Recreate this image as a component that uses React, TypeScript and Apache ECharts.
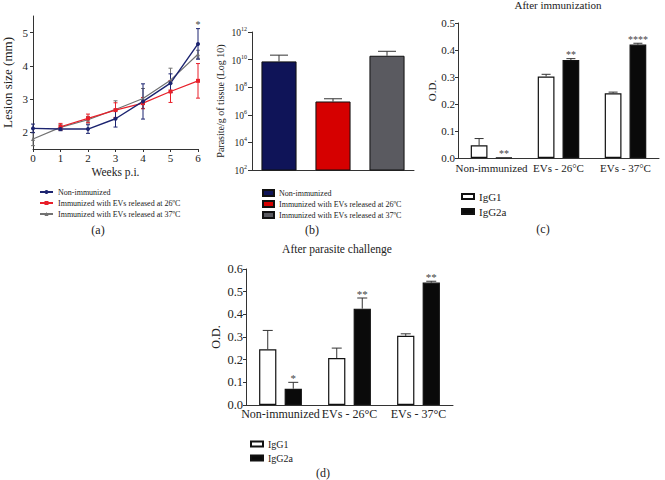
import React, { useEffect, useRef } from 'react';
import * as echarts from 'echarts';

// ---------- Panel (a): lesion size ----------
const weeks = [0, 1, 2, 3, 4, 5, 6];
const nonImmMean = [2.12, 2.1, 2.1, 2.41, 2.93, 3.48, 4.66];
const nonImmErr = [0.13, 0.05, 0.13, 0.25, 0.53, 0.28, 0.46];
const ev26Mean = [null, 2.17, 2.42, 2.67, 2.88, 3.23, 3.55];
const ev26Err = [null, 0.1, 0.13, 0.22, 0.17, 0.33, 0.52];
const ev37Mean = [1.8, 2.15, 2.38, 2.69, 3.02, 3.57, 4.35];
const ev37Err = [0.2, 0.08, 0.1, 0.26, 0.3, 0.36, 0.12];
const starsA = ['', '', '', '', '', '', '*'];
const yTicksA = [2, 3, 4, 5];

// ---------- Panel (b): parasite load ----------
const groupsB = ['Non-immunized', 'Immunized with EVs released at 26ºC', 'Immunized with EVs released at 37ºC'];
const parasiteMean = [7.4e9, 9.2e6, 1.9e10];
const parasiteUpper = [2.1e10, 1.45e7, 4.0e10];
const yTicksB = [1e2, 1e4, 1e6, 1e8, 1e10, 1e12];

// ---------- Panel (c): after immunization ----------
const catsOD = ['Non-immunized', 'EVs - 26°C', 'EVs - 37°C'];
const igg1C = [0.047, 0.302, 0.24];
const igg1CUpper = [0.072, 0.31, 0.244];
const igg2aC = [0.002, 0.363, 0.42];
const igg2aCUpper = [0.002, 0.368, 0.425];
const starsC2a = ['**', '**', '****'];

// ---------- Panel (d): after parasite challenge ----------
const igg1D = [0.246, 0.207, 0.305];
const igg1DUpper = [0.329, 0.251, 0.314];
const igg2aD = [0.072, 0.425, 0.54];
const igg2aDUpper = [0.1, 0.472, 0.546];
const starsD2a = ['*', '**', '**'];

const FONT = "'Liberation Serif', 'DejaVu Serif', serif";
const AXIS_COLOR = '#333';
const TEXT_COLOR = '#222';

const NAVY_LINE = '#1c2470';
const RED_LINE = '#e8202a';
const GRAY_LINE = '#727272';
const NAVY_BAR = '#0f1458';
const RED_BAR = '#d60000';
const GRAY_BAR = '#5a5a60';

type ErrOpts = {
  offset: number;
  cap: number;
  color: string;
  both?: boolean;
  stars?: string[];
  starSize?: number;
  starGap?: number;
};

const makeErr = (o: ErrOpts) => (params: any, api: any) => {
  const x = api.value(0);
  const lo = api.value(1);
  const hi = api.value(2);
  const cw = api.size([1, 0])[0];
  const a = api.coord([x, lo]);
  const b = api.coord([x, hi]);
  const cx = a[0] + o.offset * cw;
  const st = { stroke: o.color, lineWidth: 1 };
  const children: any[] = [];
  if (Math.abs(a[1] - b[1]) > 0.5) {
    children.push({ type: 'line', shape: { x1: cx, y1: a[1], x2: cx, y2: b[1] }, style: st });
    children.push({ type: 'line', shape: { x1: cx - o.cap / 2, y1: b[1], x2: cx + o.cap / 2, y2: b[1] }, style: st });
    if (o.both) {
      children.push({ type: 'line', shape: { x1: cx - o.cap / 2, y1: a[1], x2: cx + o.cap / 2, y2: a[1] }, style: st });
    }
  }
  const s = o.stars ? o.stars[params.dataIndex] : '';
  if (s) {
    children.push({
      type: 'text',
      x: cx,
      y: b[1] - (o.starGap ?? 3),
      style: {
        text: s,
        fill: '#444',
        fontSize: o.starSize ?? 10,
        fontFamily: FONT,
        align: 'center',
        verticalAlign: 'middle',
      },
    });
  }
  return { type: 'group', children };
};

const lineErrData = (mean: (number | null)[], err: (number | null)[]) =>
  weeks
    .map((w, i) => (mean[i] == null ? null : [w, (mean[i] as number) - (err[i] as number), (mean[i] as number) + (err[i] as number)]))
    .filter((d) => d != null);

const barErrData = (mean: number[], upper: number[]) => mean.map((m, i) => [i, m, upper[i]]);

const stripPrefix = (name: string) => name.slice(2);

const axisLineStyle = { lineStyle: { color: AXIS_COLOR, width: 1 } };

function buildOption(): any {
  return {
    animation: false,
    backgroundColor: '#fff',
    textStyle: { fontFamily: FONT, color: TEXT_COLOR },
    grid: [
      { left: 33, top: 16, width: 165, height: 133 },
      { left: 252, top: 32, width: 162, height: 138 },
      { left: 458, top: 23, width: 201, height: 135 },
      { left: 246, top: 269, width: 207, height: 136 },
    ],
    xAxis: [
      {
        gridIndex: 0,
        type: 'value',
        min: 0,
        max: 6,
        interval: 1,
        name: 'Weeks p.i.',
        nameLocation: 'middle',
        nameGap: 17,
        nameTextStyle: { fontSize: 11.5, fontFamily: FONT, color: TEXT_COLOR },
        axisLine: axisLineStyle,
        axisTick: { length: 3, lineStyle: { color: AXIS_COLOR } },
        axisLabel: { margin: 3, fontSize: 11, fontFamily: FONT, color: TEXT_COLOR },
        splitLine: { show: false },
      },
      {
        gridIndex: 1,
        type: 'category',
        data: groupsB,
        axisLine: axisLineStyle,
        axisTick: { alignWithLabel: true, length: 4, lineStyle: { color: AXIS_COLOR } },
        axisLabel: { show: false },
      },
      {
        gridIndex: 2,
        type: 'category',
        data: catsOD,
        axisLine: axisLineStyle,
        axisTick: { alignWithLabel: true, length: 4, lineStyle: { color: AXIS_COLOR } },
        axisLabel: { interval: 0, hideOverlap: false, margin: 4, fontSize: 11, fontFamily: FONT, color: TEXT_COLOR },
      },
      {
        gridIndex: 3,
        type: 'category',
        data: catsOD,
        axisLine: axisLineStyle,
        axisTick: { alignWithLabel: true, length: 4, lineStyle: { color: AXIS_COLOR } },
        axisLabel: { interval: 0, hideOverlap: false, margin: 3, fontSize: 12, fontFamily: FONT, color: TEXT_COLOR },
      },
    ],
    yAxis: [
      {
        gridIndex: 0,
        type: 'value',
        min: 1.5,
        max: 5.5,
        name: 'Lesion size (mm)',
        nameLocation: 'middle',
        nameRotate: 90,
        nameGap: 19,
        nameTextStyle: { fontSize: 13, fontFamily: FONT, color: TEXT_COLOR },
        axisLine: { show: true, ...axisLineStyle },
        axisTick: { show: true, length: 3, customValues: yTicksA, lineStyle: { color: AXIS_COLOR } },
        axisLabel: { margin: 5, fontSize: 11, fontFamily: FONT, color: TEXT_COLOR, customValues: yTicksA },
        splitLine: { show: false },
      },
      {
        gridIndex: 1,
        type: 'log',
        logBase: 10,
        min: 1e2,
        max: 1e12,
        name: 'Parasite/g of tissue (Log 10)',
        nameLocation: 'middle',
        nameRotate: 90,
        nameGap: 27,
        nameTextStyle: { fontSize: 10, fontFamily: FONT, color: TEXT_COLOR },
        axisLine: { show: true, ...axisLineStyle },
        axisTick: { show: true, length: 4, customValues: yTicksB, lineStyle: { color: AXIS_COLOR } },
        axisLabel: {
          margin: 5,
          customValues: yTicksB,
          formatter: (v: number) => `{b|10}{s|${Math.round(Math.log10(v))}}`,
          rich: {
            b: { fontSize: 9.5, fontFamily: FONT, color: TEXT_COLOR, lineHeight: 12, verticalAlign: 'bottom' },
            s: { fontSize: 6, fontFamily: FONT, color: TEXT_COLOR, lineHeight: 6, verticalAlign: 'top' },
          },
        },
        splitLine: { show: false },
      },
      {
        gridIndex: 2,
        type: 'value',
        min: 0,
        max: 0.5,
        interval: 0.1,
        name: 'O.D.',
        nameLocation: 'middle',
        nameRotate: 90,
        nameGap: 21,
        nameTextStyle: { fontSize: 11, fontFamily: FONT, color: TEXT_COLOR },
        axisLine: { show: true, ...axisLineStyle },
        axisTick: { show: true, length: 3, lineStyle: { color: AXIS_COLOR } },
        axisLabel: { margin: 3, fontSize: 11, fontFamily: FONT, color: TEXT_COLOR, formatter: (v: number) => v.toFixed(1) },
        splitLine: { show: false },
      },
      {
        gridIndex: 3,
        type: 'value',
        min: 0,
        max: 0.6,
        interval: 0.1,
        name: 'O.D.',
        nameLocation: 'middle',
        nameRotate: 90,
        nameGap: 24,
        nameTextStyle: { fontSize: 12, fontFamily: FONT, color: TEXT_COLOR },
        axisLine: { show: true, ...axisLineStyle },
        axisTick: { show: true, length: 3, lineStyle: { color: AXIS_COLOR } },
        axisLabel: { margin: 3, fontSize: 12.5, fontFamily: FONT, color: TEXT_COLOR, formatter: (v: number) => v.toFixed(1) },
        splitLine: { show: false },
      },
    ],
    legend: [
      {
        left: 34,
        top: 183,
        orient: 'vertical',
        itemWidth: 13,
        itemHeight: 5,
        itemGap: 3,
        selectedMode: false,
        formatter: stripPrefix,
        textStyle: { fontSize: 8, fontFamily: FONT, color: TEXT_COLOR },
        data: ['a:Non-immunized', 'a:Immunized with EVs released at 26ºC', 'a:Immunized with EVs released at 37ºC'],
      },
      {
        left: 257,
        top: 184,
        orient: 'vertical',
        icon: 'rect',
        itemWidth: 11,
        itemHeight: 6,
        itemGap: 3,
        selectedMode: false,
        formatter: stripPrefix,
        textStyle: { fontSize: 8, fontFamily: FONT, color: TEXT_COLOR },
        data: groupsB.map((g) => 'b:' + g),
      },
      {
        left: 456,
        top: 186,
        orient: 'vertical',
        icon: 'rect',
        itemWidth: 12,
        itemHeight: 5,
        itemGap: 4,
        selectedMode: false,
        formatter: stripPrefix,
        textStyle: { fontSize: 11, fontFamily: FONT, color: TEXT_COLOR },
        data: ['c:IgG1', 'c:IgG2a'],
      },
      {
        left: 245,
        top: 434,
        orient: 'vertical',
        icon: 'rect',
        itemWidth: 12,
        itemHeight: 5,
        itemGap: 4,
        selectedMode: false,
        formatter: stripPrefix,
        textStyle: { fontSize: 10, fontFamily: FONT, color: TEXT_COLOR },
        data: ['d:IgG1', 'd:IgG2a'],
      },
    ],
    graphic: [
      { type: 'text', x: 558, y: 5, style: { text: 'After immunization', fontSize: 11, fontFamily: FONT, fill: TEXT_COLOR, align: 'center', verticalAlign: 'middle' } },
      { type: 'text', x: 337, y: 249, style: { text: 'After parasite challenge', fontSize: 11.5, fontFamily: FONT, fill: TEXT_COLOR, align: 'center', verticalAlign: 'middle' } },
      { type: 'text', x: 98, y: 230, style: { text: '(a)', fontSize: 12, fontFamily: FONT, fill: TEXT_COLOR, align: 'center', verticalAlign: 'middle' } },
      { type: 'text', x: 312, y: 230, style: { text: '(b)', fontSize: 12, fontFamily: FONT, fill: TEXT_COLOR, align: 'center', verticalAlign: 'middle' } },
      { type: 'text', x: 543, y: 229, style: { text: '(c)', fontSize: 12, fontFamily: FONT, fill: TEXT_COLOR, align: 'center', verticalAlign: 'middle' } },
      { type: 'text', x: 323, y: 473, style: { text: '(d)', fontSize: 12, fontFamily: FONT, fill: TEXT_COLOR, align: 'center', verticalAlign: 'middle' } },
    ],
    series: [
      // ----- (a) lines -----
      {
        name: 'a:Immunized with EVs released at 37ºC',
        type: 'line',
        xAxisIndex: 0,
        yAxisIndex: 0,
        data: weeks.map((w, i) => [w, ev37Mean[i]]),
        symbol: 'triangle',
        symbolSize: 4,
        lineStyle: { color: GRAY_LINE, width: 1.2 },
        itemStyle: { color: GRAY_LINE },
      },
      {
        name: 'a:Immunized with EVs released at 26ºC',
        type: 'line',
        xAxisIndex: 0,
        yAxisIndex: 0,
        data: weeks.map((w, i) => [w, ev26Mean[i]]).filter((d) => d[1] != null),
        symbol: 'rect',
        symbolSize: 4,
        lineStyle: { color: RED_LINE, width: 1.2 },
        itemStyle: { color: RED_LINE },
      },
      {
        name: 'a:Non-immunized',
        type: 'line',
        xAxisIndex: 0,
        yAxisIndex: 0,
        data: weeks.map((w, i) => [w, nonImmMean[i]]),
        symbol: 'circle',
        symbolSize: 4,
        lineStyle: { color: NAVY_LINE, width: 1.4 },
        itemStyle: { color: NAVY_LINE },
      },
      {
        type: 'custom',
        xAxisIndex: 0,
        yAxisIndex: 0,
        silent: true,
        renderItem: makeErr({ offset: 0, cap: 4, color: GRAY_LINE, both: true }),
        data: lineErrData(ev37Mean, ev37Err),
      },
      {
        type: 'custom',
        xAxisIndex: 0,
        yAxisIndex: 0,
        silent: true,
        renderItem: makeErr({ offset: 0, cap: 4, color: RED_LINE, both: true }),
        data: lineErrData(ev26Mean, ev26Err),
      },
      {
        type: 'custom',
        xAxisIndex: 0,
        yAxisIndex: 0,
        silent: true,
        renderItem: makeErr({ offset: 0, cap: 4, color: NAVY_LINE, both: true, stars: starsA, starSize: 10, starGap: 4 }),
        data: lineErrData(nonImmMean, nonImmErr),
      },
      // ----- (b) bars -----
      ...groupsB.map((g, gi) => ({
        name: 'b:' + g,
        type: 'bar',
        xAxisIndex: 1,
        yAxisIndex: 1,
        barWidth: '65%',
        barGap: '-100%',
        data: groupsB.map((_, i) => (i === gi ? parasiteMean[i] : '-')),
        itemStyle: { color: [NAVY_BAR, RED_BAR, GRAY_BAR][gi], borderColor: '#111', borderWidth: 1 },
      })),
      {
        type: 'custom',
        xAxisIndex: 1,
        yAxisIndex: 1,
        silent: true,
        renderItem: makeErr({ offset: 0, cap: 18, color: '#333' }),
        data: barErrData(parasiteMean, parasiteUpper),
      },
      // ----- (c) bars -----
      {
        name: 'c:IgG1',
        type: 'bar',
        xAxisIndex: 2,
        yAxisIndex: 2,
        barWidth: '25%',
        barGap: '48%',
        data: igg1C,
        itemStyle: { color: '#ffffff', borderColor: '#111', borderWidth: 1.2 },
      },
      {
        name: 'c:IgG2a',
        type: 'bar',
        xAxisIndex: 2,
        yAxisIndex: 2,
        barWidth: '25%',
        barGap: '48%',
        data: igg2aC,
        itemStyle: { color: '#0a0a0a', borderColor: '#111', borderWidth: 1.2 },
      },
      {
        type: 'custom',
        xAxisIndex: 2,
        yAxisIndex: 2,
        silent: true,
        renderItem: makeErr({ offset: -0.185, cap: 9, color: '#333' }),
        data: barErrData(igg1C, igg1CUpper),
      },
      {
        type: 'custom',
        xAxisIndex: 2,
        yAxisIndex: 2,
        silent: true,
        renderItem: makeErr({ offset: 0.185, cap: 9, color: '#333', stars: starsC2a, starSize: 10, starGap: 4 }),
        data: barErrData(igg2aC, igg2aCUpper),
      },
      // ----- (d) bars -----
      {
        name: 'd:IgG1',
        type: 'bar',
        xAxisIndex: 3,
        yAxisIndex: 3,
        barWidth: '25%',
        barGap: '48%',
        data: igg1D,
        itemStyle: { color: '#ffffff', borderColor: '#111', borderWidth: 1.2 },
      },
      {
        name: 'd:IgG2a',
        type: 'bar',
        xAxisIndex: 3,
        yAxisIndex: 3,
        barWidth: '25%',
        barGap: '48%',
        data: igg2aD,
        itemStyle: { color: '#0a0a0a', borderColor: '#111', borderWidth: 1.2 },
      },
      {
        type: 'custom',
        xAxisIndex: 3,
        yAxisIndex: 3,
        silent: true,
        renderItem: makeErr({ offset: -0.185, cap: 10, color: '#333' }),
        data: barErrData(igg1D, igg1DUpper),
      },
      {
        type: 'custom',
        xAxisIndex: 3,
        yAxisIndex: 3,
        silent: true,
        renderItem: makeErr({ offset: 0.185, cap: 10, color: '#333', stars: starsD2a, starSize: 11, starGap: 4 }),
        data: barErrData(igg2aD, igg2aDUpper),
      },
    ],
  };
}

export default function App() {
  const ref = useRef<HTMLDivElement>(null);
  useEffect(() => {
    if (!ref.current) return;
    const chart = echarts.init(ref.current, undefined, { renderer: 'svg' });
    chart.setOption(buildOption());
    return () => chart.dispose();
  }, []);
  return (
    <div
      ref={ref}
      style={{ position: 'absolute', left: 0, top: 0, width: 665, height: 480, background: '#fff' }}
    />
  );
}
